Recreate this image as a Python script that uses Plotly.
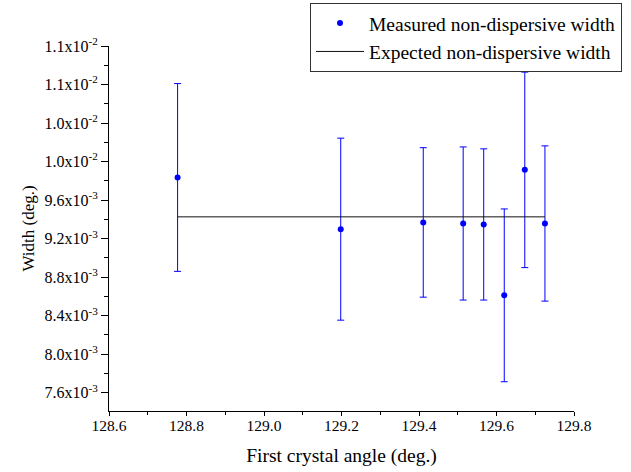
import plotly.graph_objects as go

# ---- data ----
angle = [128.777, 129.198, 129.411, 129.514, 129.567, 129.620, 129.673, 129.725]
width = [9.835e-3, 9.298e-3, 9.368e-3, 9.357e-3, 9.347e-3, 8.611e-3, 9.914e-3, 9.357e-3]
width_err = [0.975e-3, 0.945e-3, 0.776e-3, 0.795e-3, 0.785e-3, 0.897e-3, 1.015e-3, 0.806e-3]
expected_width = 9.426e-3

y_tickvals = [0.0076, 0.0080, 0.0084, 0.0088, 0.0092, 0.0096, 0.0100, 0.0104, 0.0108, 0.0112]
y_ticktext = ["7.6x10<sup>-3</sup>", "8.0x10<sup>-3</sup>", "8.4x10<sup>-3</sup>",
              "8.8x10<sup>-3</sup>", "9.2x10<sup>-3</sup>", "9.6x10<sup>-3</sup>",
              "1.0x10<sup>-2</sup>", "1.0x10<sup>-2</sup>", "1.1x10<sup>-2</sup>",
              "1.1x10<sup>-2</sup>"]

FONT = "Liberation Serif"

fig = go.Figure()
fig.add_trace(go.Scatter(
    x=angle, y=width, mode="markers",
    name="Measured non-dispersive width",
    marker=dict(color="#0000ff", size=6),
    error_y=dict(type="data", array=width_err, visible=True,
                 color="#0000ff", thickness=1, width=3.5),
))
fig.add_trace(go.Scatter(
    x=[angle[0], angle[-1]], y=[expected_width, expected_width],
    mode="lines", name="Expected non-dispersive width",
    line=dict(color="#111111", width=1),
))

fig.update_layout(
    width=631, height=472,
    margin=dict(l=109, r=57, t=46, b=61, autoexpand=False),
    paper_bgcolor="white", plot_bgcolor="white",
    font=dict(family=FONT, color="black", size=16),
    showlegend=True,
    legend=dict(
        x=1.1032, y=1.118, xanchor="right", yanchor="top",
        bordercolor="#333333", borderwidth=1, bgcolor="white",
        font=dict(family=FONT, size=19.5, color="black"),
        itemwidth=48, tracegroupgap=0,
    ),
)
fig.update_xaxes(
    range=[128.6, 129.8], dtick=0.2, tick0=128.6, tickformat=".1f",
    showline=True, linecolor="black", linewidth=1,
    ticks="outside", ticklen=4, tickcolor="black", tickwidth=1,
    minor=dict(ticks="outside", ticklen=3, dtick=0.1, tickcolor="black"),
    showgrid=False, zeroline=False, ticklabelstandoff=-4,
    tickfont=dict(family=FONT, size=15.5),
    title=dict(text="First crystal angle (deg.)", font=dict(family=FONT, size=19.5)),
)
fig.update_yaxes(
    range=[0.00741, 0.0112], tickmode="array",
    tickvals=y_tickvals, ticktext=y_ticktext,
    showline=True, linecolor="black", linewidth=1,
    ticks="outside", ticklen=7, tickcolor="black", tickwidth=1,
    minor=dict(ticks="outside", ticklen=4, dtick=0.0002, tick0=0.0076, tickcolor="black"),
    showgrid=False, zeroline=False, automargin=True,
    tickfont=dict(family=FONT, size=16),
    title=dict(text="Width (deg.)", font=dict(family=FONT, size=17), standoff=5),
)

fig.write_html("out.html")
